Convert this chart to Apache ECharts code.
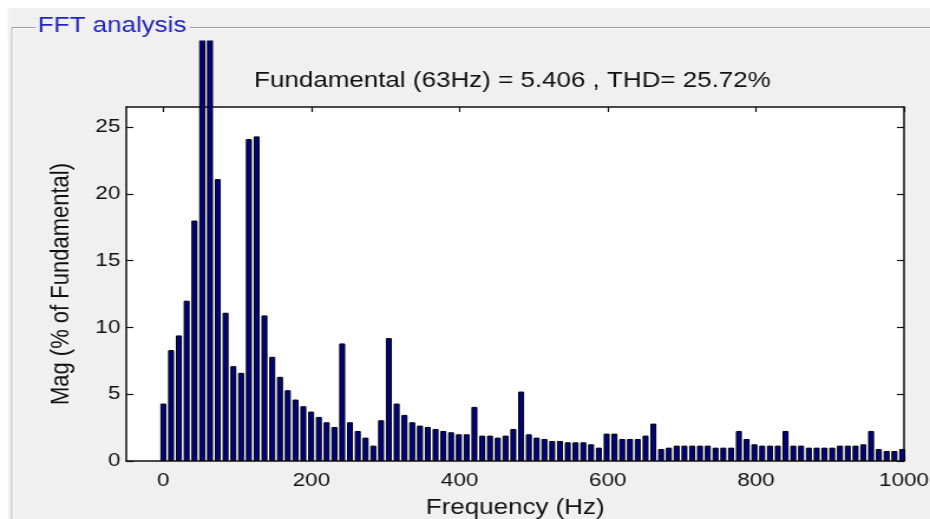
<!DOCTYPE html>
<html><head><meta charset="utf-8">
<script src="https://cdn.jsdelivr.net/npm/echarts@6/dist/echarts.min.js"></script>
<style>
html,body{margin:0;padding:0;background:#fff;overflow:hidden}
#wrap{width:930px;height:519px;overflow:hidden;position:relative;background:#fff}
#c{width:788px;height:519px;transform:scaleX(1.1802);transform-origin:0 0;}
</style></head>
<body><div id="wrap"><div id="c"></div></div>
<script>
// Frequency bins (Hz)
const frequencies = [0, 10.5, 21, 31.5, 42, 52.5, 63, 73.5, 84, 94.5, 105, 115.5, 126, 136.5, 147, 157.5, 168, 178.5, 189, 199.5,
  210, 220.5, 231, 241.5, 252, 262.5, 273, 283.5, 294, 304.5, 315, 325.5, 336, 346.5, 357, 367.5, 378, 388.5, 399, 409.5,
  420, 430.5, 441, 451.5, 462, 472.5, 483, 493.5, 504, 514.5, 525, 535.5, 546, 556.5, 567, 577.5, 588, 598.5, 609, 619.5,
  630, 640.5, 651, 661.5, 672, 682.5, 693, 703.5, 714, 724.5, 735, 745.5, 756, 766.5, 777, 787.5, 798, 808.5, 819, 829.5,
  840, 850.5, 861, 871.5, 882, 892.5, 903, 913.5, 924, 934.5, 945, 955.5, 966, 976.5, 987, 997.5];
// Magnitude (% of Fundamental)
const magnitudes = [4.3, 8.3, 9.4, 12.0, 18.0, 45, 100, 21.1, 11.1, 7.1, 6.6, 24.1, 24.3, 10.9, 7.8, 6.3, 5.3, 4.6, 4.1, 3.7,
  3.3, 2.9, 2.55, 8.8, 2.9, 2.25, 1.75, 1.15, 3.05, 9.2, 4.3, 3.45, 2.9, 2.65, 2.55, 2.4, 2.25, 2.15, 2.0, 2.0,
  4.05, 1.9, 1.9, 1.75, 1.9, 2.4, 5.2, 2.0, 1.75, 1.65, 1.5, 1.5, 1.4, 1.4, 1.4, 1.25, 1.0, 2.05, 2.05, 1.65,
  1.65, 1.65, 1.9, 2.8, 0.9, 1.0, 1.15, 1.15, 1.15, 1.15, 1.15, 1.0, 1.0, 1.0, 2.25, 1.65, 1.25, 1.15, 1.15, 1.15,
  2.25, 1.15, 1.15, 1.0, 1.0, 1.0, 1.0, 1.15, 1.15, 1.15, 1.25, 2.25, 0.9, 0.75, 0.75, 0.9];
const xTickLabels = [0, 200, 400, 600, 800, 1000];
const yTickLabels = [0, 5, 10, 15, 20, 25];
const panelTitle = 'FFT analysis';
const chartTitle = 'Fundamental (63Hz) = 5.406 , THD= 25.72%';
const xName = 'Frequency (Hz)';
const yName = 'Mag (% of Fundamental)';

const FONT = "'Liberation Sans', Arial, sans-serif";
const S = 1.1802; // horizontal stretch
const chart = echarts.init(document.getElementById('c'));

const pairs = frequencies.map((f, i) => [f, magnitudes[i]]);
const axisCommon = {
  type: 'value', min: -50, max: 1000,
  axisLine: { show: true, onZero: false, lineStyle: { color: '#111', width: 1.5 } },
  splitLine: { show: false }
};
chart.setOption({
  backgroundColor: '#f0f0f0',
  animation: false,
  grid: { left: 107, right: 22, top: 107, bottom: 58, show: true, backgroundColor: '#fff', borderWidth: 0,
    containLabel: false, outerBoundsMode: 'none' },
  xAxis: [
    Object.assign({}, axisCommon, {
      position: 'bottom',
      axisTick: { show: true, inside: true, length: 5, customValues: xTickLabels, lineStyle: { color: '#111', width: 1.2 } },
      axisLabel: { show: true, customValues: xTickLabels, margin: 10, fontSize: 19, fontFamily: FONT, color: '#111',
        formatter: v => String(v) },
      name: xName, nameLocation: 'middle', nameGap: 36,
      nameTextStyle: { fontSize: 22, fontFamily: FONT, color: '#111' }
    }),
    Object.assign({}, axisCommon, {
      position: 'top',
      axisTick: { show: true, inside: true, length: 5, customValues: xTickLabels, lineStyle: { color: '#111', width: 1.2 } },
      axisLabel: { show: false }
    })
  ],
  yAxis: [
    {
      type: 'value', min: 0, max: 26.5, position: 'left',
      axisLine: { show: true, onZero: false, lineStyle: { color: '#111', width: 1.5 } },
      axisTick: { show: true, inside: true, length: 6, customValues: yTickLabels, lineStyle: { color: '#111', width: 1.2 } },
      axisLabel: { show: true, customValues: yTickLabels, margin: 5, fontSize: 19, fontFamily: FONT, color: '#111' },
      splitLine: { show: false },
      name: yName, nameLocation: 'middle', nameGap: 44, nameRotate: 90,
      nameTextStyle: { fontSize: 22, fontFamily: FONT, color: '#111' }
    },
    {
      type: 'value', min: 0, max: 26.5, position: 'right',
      axisLine: { show: true, onZero: false, lineStyle: { color: '#111', width: 1.5 } },
      axisTick: { show: true, inside: true, length: 6, customValues: yTickLabels, lineStyle: { color: '#111', width: 1.2 } },
      axisLabel: { show: false },
      splitLine: { show: false }
    }
  ],
  series: [{
    type: 'bar', xAxisIndex: 0, yAxisIndex: 0, clip: false,
    barWidth: 5.1,
    data: pairs,
    itemStyle: { color: '#000080', borderColor: '#000', borderWidth: 1 }
  }],
  graphic: [
    // white outer strips
    { type: 'rect', z: 100, shape: { x: 0, y: 0, width: 788, height: 8 }, style: { fill: '#fff' } },
    { type: 'rect', z: 100, shape: { x: 0, y: 0, width: 8 / S, height: 519 }, style: { fill: '#fff' } },
    // cover above panel inner region (clips tall bars)
    { type: 'rect', z: 100, shape: { x: 8 / S, y: 8, width: 788, height: 32.5 }, style: { fill: '#f0f0f0' } },
    // etched frame
    { type: 'line', z: 101, shape: { x1: 12 / S, y1: 27.5, x2: 788, y2: 27.5 }, style: { stroke: '#a0a0a0', lineWidth: 1 } },
    { type: 'line', z: 101, shape: { x1: 13 / S, y1: 28.5, x2: 788, y2: 28.5 }, style: { stroke: '#ffffff', lineWidth: 1 } },
    { type: 'line', z: 101, shape: { x1: 12 / S, y1: 27.5, x2: 12 / S, y2: 519 }, style: { stroke: '#a0a0a0', lineWidth: 1 } },
    { type: 'line', z: 101, shape: { x1: 13 / S, y1: 28.5, x2: 13 / S, y2: 519 }, style: { stroke: '#ffffff', lineWidth: 1 } },
    { type: 'text', z: 102, x: 30, y: 26,
      style: { text: panelTitle, font: "22px " + FONT, fill: '#2424c0', textAlign: 'left', align: 'left',
        textVerticalAlign: 'middle', verticalAlign: 'middle', backgroundColor: '#f0f0f0', padding: [0, 3, 0, 2] } },
    { type: 'text', z: 102, x: 434.2, y: 81,
      style: { text: chartTitle, font: "22px " + FONT, fill: '#111', textAlign: 'center', align: 'center',
        textVerticalAlign: 'middle', verticalAlign: 'middle' } }
  ]
});
</script>
</body></html>
